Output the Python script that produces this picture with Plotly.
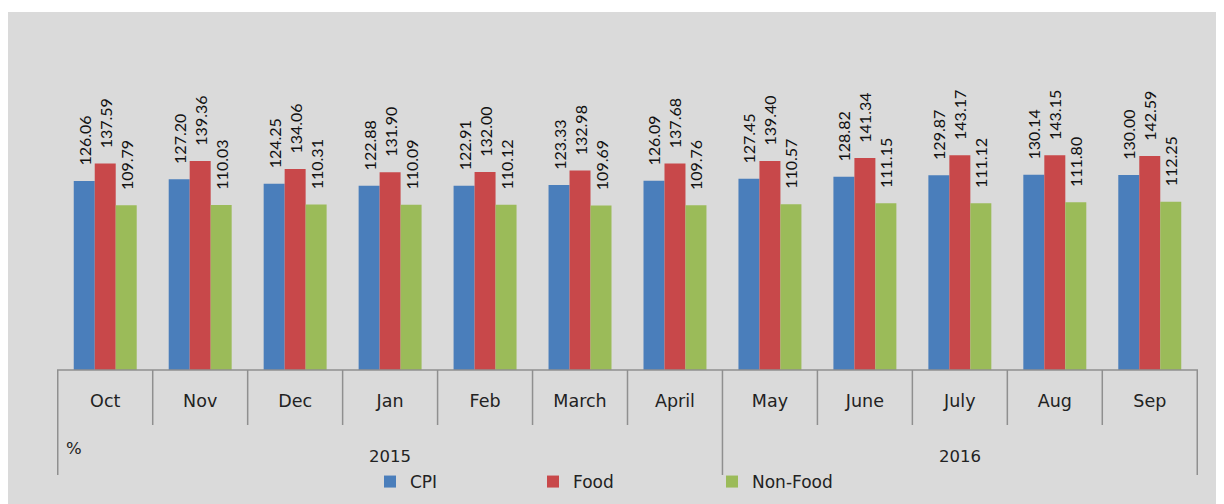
import plotly.graph_objects as go

months = ["Oct", "Nov", "Dec", "Jan", "Feb", "March", "April", "May", "June", "July", "Aug", "Sep"]
years = ["2015"] * 7 + ["2016"] * 5
cpi = [126.06, 127.20, 124.25, 122.88, 122.91, 123.33, 126.09, 127.45, 128.82, 129.87, 130.14, 130.00]
food = [137.59, 139.36, 134.06, 131.90, 132.00, 132.98, 137.68, 139.40, 141.34, 143.17, 143.15, 142.59]
nonfood = [109.79, 110.03, 110.31, 110.09, 110.12, 109.69, 109.76, 110.57, 111.15, 111.12, 111.80, 112.25]

series = [("CPI", cpi, "#4a7ebb"), ("Food", food, "#c8484a"), ("Non-Food", nonfood, "#9bbb59")]
legend_x_page = [370, 533, 712]

LABEL_FONT = "Lato"
AXIS_FONT = "DejaVu Sans"
OFF = 8                 # page body margin
W, H = 1216, 496
ML, MR, MT, MB = 49, 26, 32, 134
PH = H - MT - MB
PW = W - ML - MR
PX_PER_UNIT = 1.5


def py(page_y):
    return (H - MB - (page_y - OFF)) / PH


def pxx(page_x):
    return (page_x - OFF - ML) / PW


fig = go.Figure()
for k, (name, vals, col) in enumerate(series):
    fig.add_trace(go.Bar(
        x=months, y=vals, name=name, marker=dict(color=col, line=dict(width=0)),
        texttemplate="\u00a0\u00a0\u00a0%{y:.2f}", textposition="outside", textangle=-90,
        constraintext="none", cliponaxis=False,
        textfont=dict(family=LABEL_FONT, size=16, color="#111"),
        legend="legend" if k == 0 else f"legend{k + 1}",
    ))

shapes = []
shapes.append(dict(type="rect", xref="paper", yref="paper", x0=-0.2, x1=1.2, y0=py(12), y1=py(0),
                   fillcolor="white", line=dict(width=0), layer="below"))
lc = "#8f8f8f"
shapes.append(dict(type="line", xref="paper", yref="paper", x0=0, x1=1, y0=0, y1=0, line=dict(color=lc, width=1.5)))
n = len(months)
for i in range(n + 1):
    boundary_year = i == 0 or i == n or years[i] != years[i - 1]
    shapes.append(dict(type="line", xref="x", yref="paper", x0=i - 0.5, x1=i - 0.5,
                       y0=0, y1=py(475) if boundary_year else py(425), line=dict(color=lc, width=1.5)))

annotations = []
groups = []
for i, yv in enumerate(years):
    if not groups or groups[-1][0] != yv:
        groups.append([yv, i, i])
    else:
        groups[-1][2] = i
for yv, a, b in groups:
    annotations.append(dict(x=(a + b) / 2, y=py(456), xref="x", yref="paper", text=yv, showarrow=False,
                            font=dict(family=AXIS_FONT, size=16.5, color="#222"), yanchor="middle"))
annotations.append(dict(x=pxx(64), y=py(448), xref="paper", yref="paper", text="%", showarrow=False,
                        xanchor="left", font=dict(family=AXIS_FONT, size=16.5, color="#222"), yanchor="middle"))

leg_common = dict(orientation="h", xanchor="left", y=py(482), yanchor="middle",
                  font=dict(family=AXIS_FONT, size=17, color="#222"), bgcolor="rgba(0,0,0,0)",
                  itemclick=False, itemdoubleclick=False)
legends = {}
for k, lx in enumerate(legend_x_page):
    key = "legend" if k == 0 else f"legend{k + 1}"
    legends[key] = dict(leg_common, x=pxx(lx))

fig.update_layout(
    width=W, height=H,
    margin=dict(l=ML, r=MR, t=MT, b=MB, autoexpand=False),
    paper_bgcolor="#dadada", plot_bgcolor="rgba(0,0,0,0)",
    barmode="group", bargap=0.337, bargroupgap=0,
    showlegend=True,
    xaxis=dict(type="category", showgrid=False, showline=False, ticks="", zeroline=False, automargin=False,
               tickfont=dict(family=AXIS_FONT, size=17.5, color="#222"), ticklabelstandoff=18),
    yaxis=dict(range=[0, PH / PX_PER_UNIT], visible=False, showgrid=False, zeroline=False, automargin=False),
    shapes=shapes, annotations=annotations,
    font=dict(family=AXIS_FONT),
    **legends,
)
fig.write_html("out.html")
